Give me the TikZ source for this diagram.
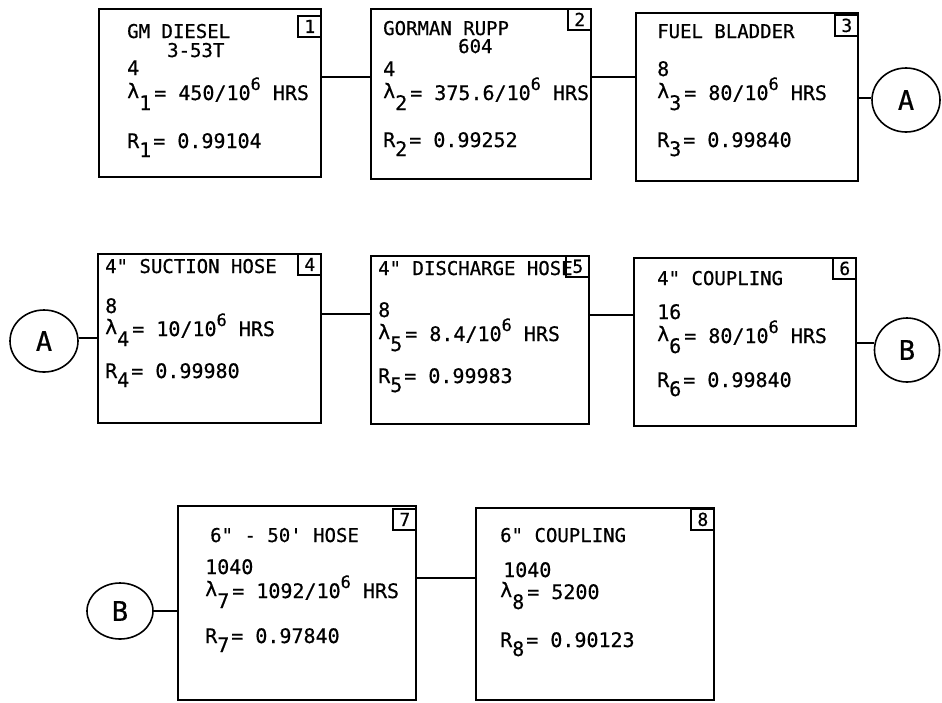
\documentclass[tikz,border=0pt]{standalone}
\usepackage{fontspec}
\usetikzlibrary{shapes.geometric}
\newfontfamily\tw[FakeBold=0.6]{DejaVu Sans Mono}
\newcommand{\lsub}[1]{\raisebox{2pt}{\fontsize{20}{20}\selectfont λ}\raisebox{-10pt}{#1}\kern3pt}
\newcommand{\rsub}[1]{R\raisebox{-9pt}{#1}\kern2pt}
\newcommand{\sixp}{\raisebox{10pt}{\fontsize{17}{17}\selectfont 6}}
\begin{document}
\begin{tikzpicture}[x=1pt,y=-1pt,
  box/.style={draw, line width=2.2pt, inner sep=0pt, anchor=north west},
  numbox/.style={draw, line width=1.8pt, inner sep=0pt, minimum width=23pt, minimum height=21pt, anchor=north east, font=\tw\fontsize{18}{18}\selectfont},
  ttl/.style={anchor=base west, inner sep=0pt, font=\tw\fontsize{19}{19}\selectfont},
  val/.style={anchor=base west, inner sep=0pt, font=\tw\fontsize{20}{20}\selectfont},
  circ/.style={draw, ellipse, line width=1.6pt, inner sep=0pt, font=\tw\fontsize{27}{27}\selectfont},
  conn/.style={line width=2pt}]
\useasboundingbox (0,0) rectangle (942,702);

% ---------- row 1 ----------
\node[box, minimum width=222pt, minimum height=168pt] (b1) at (98,8) {};
\node[numbox] (n1) at ([yshift=-7pt]b1.north east) {1};
\node[ttl] (t1a) at ([shift={(29,30)}]b1.north west) {GM DIESEL};
\node[ttl] (t1b) at ([shift={(69,49)}]b1.north west) {3-53T};
\node[val] (t1c) at ([shift={(29,67)}]b1.north west) {4};
\node[val] (t1d) at ([shift={(29,92)}]b1.north west) {\lsub{1}= 450/10\sixp{} HRS};
\node[val] (t1e) at ([shift={(29,140)}]b1.north west) {\rsub{1}= 0.99104};

\node[box, minimum width=220pt, minimum height=170pt] (b2) at (370,8) {};
\node[numbox] (n2) at (b2.north east) {2};
\node[ttl] (t2a) at ([shift={(13,27)}]b2.north west) {GORMAN RUPP};
\node[ttl] (t2b) at ([shift={(88,45)}]b2.north west) {604};
\node[val] (t2c) at ([shift={(13,68)}]b2.north west) {4};
\node[val] (t2d) at ([shift={(13,92)}]b2.north west) {\lsub{2}= 375.6/10\sixp{} HRS};
\node[val] (t2e) at ([shift={(13,139)}]b2.north west) {\rsub{2}= 0.99252};

\node[box, minimum width=222pt, minimum height=168pt] (b3) at (635,12) {};
\node[numbox] (n3) at ([yshift=-2pt]b3.north east) {3};
\node[ttl] (t3a) at ([shift={(22,26)}]b3.north west) {FUEL BLADDER};
\node[val] (t3c) at ([shift={(22,64)}]b3.north west) {8};
\node[val] (t3d) at ([shift={(22,88)}]b3.north west) {\lsub{3}= 80/10\sixp{} HRS};
\node[val] (t3e) at ([shift={(22,135)}]b3.north west) {\rsub{3}= 0.99840};

\node[circ, minimum width=68pt, minimum height=64pt] (cA1) at (906,100) {A};

% ---------- row 2 ----------
\node[circ, minimum width=68pt, minimum height=62pt] (cA2) at (44,341) {A};

\node[box, minimum width=223pt, minimum height=169pt] (b4) at (97,253) {};
\node[numbox] (n4) at (b4.north east) {4};
\node[ttl] (t4a) at ([shift={(8,20)}]b4.north west) {4" SUCTION HOSE};
\node[val] (t4c) at ([shift={(8,60)}]b4.north west) {8};
\node[val] (t4d) at ([shift={(8,83)}]b4.north west) {\lsub{4}= 10/10\sixp{} HRS};
\node[val] (t4e) at ([shift={(8,125)}]b4.north west) {\rsub{4}= 0.99980};

\node[box, minimum width=218pt, minimum height=168pt] (b5) at (370,255) {};
\node[numbox] (n5) at (b5.north east) {5};
\node[ttl] (t5a) at ([shift={(8,20)}]b5.north west) {4" DISCHARGE HOSE};
\node[val] (t5c) at ([shift={(8,62)}]b5.north west) {8};
\node[val] (t5d) at ([shift={(8,86)}]b5.north west) {\lsub{5}= 8.4/10\sixp{} HRS};
\node[val] (t5e) at ([shift={(8,128)}]b5.north west) {\rsub{5}= 0.99983};

\node[box, minimum width=222pt, minimum height=168pt] (b6) at (633,257) {};
\node[numbox] (n6) at (b6.north east) {6};
\node[ttl] (t6a) at ([shift={(24,28)}]b6.north west) {4" COUPLING};
\node[val] (t6c) at ([shift={(24,62)}]b6.north west) {16};
\node[val] (t6d) at ([shift={(24,86)}]b6.north west) {\lsub{6}= 80/10\sixp{} HRS};
\node[val] (t6e) at ([shift={(24,130)}]b6.north west) {\rsub{6}= 0.99840};

\node[circ, minimum width=65pt, minimum height=64pt] (cB1) at (907,350) {B};

% ---------- row 3 ----------
\node[circ, minimum width=66pt, minimum height=56pt] (cB2) at (120,611) {B};

\node[box, minimum width=238pt, minimum height=194pt] (b7) at (177,505) {};
\node[numbox] (n7) at ([yshift=-3pt]b7.north east) {7};
\node[ttl] (t7a) at ([shift={(33,37)}]b7.north west) {6" - 50' HOSE};
\node[val] (t7c) at ([shift={(28,69)}]b7.north west) {1040};
\node[val] (t7d) at ([shift={(28,93)}]b7.north west) {\lsub{7}= 1092/10\sixp{} HRS};
\node[val] (t7e) at ([shift={(28,138)}]b7.north west) {\rsub{7}= 0.97840};

\node[box, minimum width=238pt, minimum height=192pt] (b8) at (475,507) {};
\node[numbox] (n8) at ([yshift=-1pt]b8.north east) {8};
\node[ttl] (t8a) at ([shift={(25,35)}]b8.north west) {6" COUPLING};
\node[val] (t8c) at ([shift={(28,70)}]b8.north west) {1040};
\node[val] (t8d) at ([shift={(25,92)}]b8.north west) {\lsub{8}= 5200};
\node[val] (t8e) at ([shift={(25,140)}]b8.north west) {\rsub{8}= 0.90123};

% ---------- connectors ----------
\draw[conn] (b1.east |- 0,77) -- (b2.west |- 0,77);
\draw[conn] (b2.east |- 0,77) -- (b3.west |- 0,77);
\draw[conn] (b3.east |- 0,98) -- (cA1.west |- 0,98);
\draw[conn] (cA2.east |- 0,338) -- (b4.west |- 0,338);
\draw[conn] (b4.east |- 0,314) -- (b5.west |- 0,314);
\draw[conn] (b5.east |- 0,315) -- (b6.west |- 0,315);
\draw[conn] (b6.east |- 0,343) -- (cB1.west |- 0,343);
\draw[conn] (cB2.east |- 0,611) -- (b7.west |- 0,611);
\draw[conn] (b7.east |- 0,578) -- (b8.west |- 0,578);
\end{tikzpicture}
\end{document}
